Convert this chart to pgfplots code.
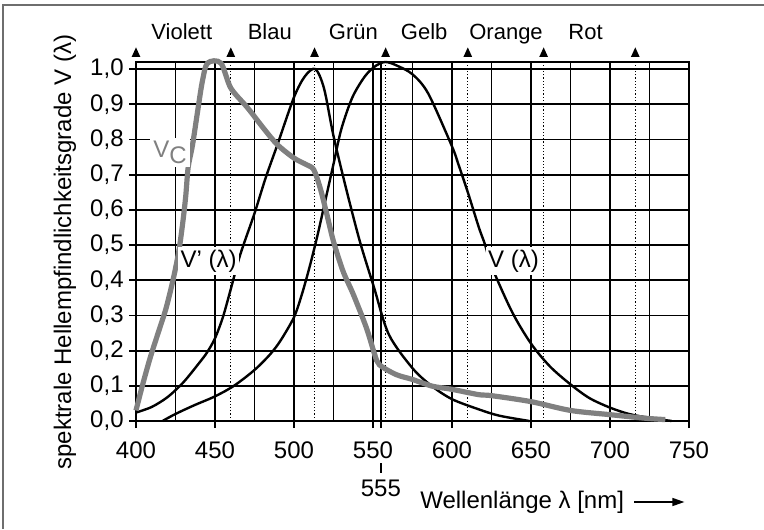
\documentclass[border=0pt]{standalone}
\usepackage{fontspec}
\setmainfont{Liberation Sans}
\usepackage{pgfplots}
\pgfplotsset{compat=1.18}
\usetikzlibrary{arrows.meta}
\definecolor{vcgray}{RGB}{128,128,128}
\definecolor{framegray}{RGB}{110,110,110}

\begin{document}
\begin{tikzpicture}[font=\fontsize{12}{14}\selectfont]
\begin{axis}[
  at={(0,0)}, anchor=south west,
  scale only axis, width=276.5pt, height=179.5pt,
  xmin=400, xmax=750, ymin=0, ymax=1.02,
  xtick={400,450,...,750},
  minor xtick={425,475,...,725},
  ytick={0,0.1,0.2,0.3,0.4,0.5,0.6,0.7,0.8,0.9,1.0},
  xtick pos=left, ytick pos=left,
  tick align=outside,
  major tick length=3.5pt, minor tick length=0pt,
  grid=both,
  major grid style={black, line width=0.9pt},
  minor grid style={black, line width=0.9pt},
  axis line style={black, line width=0.9pt},
  tick style={black, line width=0.9pt},
  /pgf/number format/assume math mode=true,
  xticklabel style={yshift=-3.5pt},
  yticklabel style={inner sep=2.5pt, /pgf/number format/.cd, use comma, fixed, fixed zerofill, precision=1},
  scaled y ticks=false,
  clip=false,
]
% colour boundaries
\pgfplotsinvokeforeach{460,513,558,610,658,716}{
  \draw[black, densely dotted, line width=0.6pt] (axis cs:#1,0) -- (axis cs:#1,1.02);
}
\draw[black, line width=0.9pt] (axis cs:555,0) -- (axis cs:555,1.02);
\pgfplotsinvokeforeach{400,460,513,558,610,658,716}{
  \coordinate (t#1) at (axis cs:#1,1.02);
}
\coordinate (c555) at (axis cs:555,0);
\coordinate (yl) at (axis cs:400,0.48);
\coordinate (xl) at (axis cs:579.7,0);

% V' (lambda), Nachtsehen
\addplot[black, line width=1.2pt, smooth] coordinates {
  (400,0.024) (410,0.04) (420,0.068) (430,0.11) (440,0.165) (445,0.195)
  (450,0.235) (455,0.295) (460,0.375) (466,0.473) (475,0.59) (482,0.69)
  (489.5,0.785) (500,0.92) (507,0.98) (513.5,1.0) (519,0.945) (525,0.81)
  (533,0.66) (541.7,0.51) (550.6,0.38) (560,0.246) (575,0.15) (587,0.10)
  (600,0.062) (617,0.033) (630,0.015) (649,0.0)
};
% V (lambda), Tagsehen
\addplot[black, line width=1.2pt, smooth] coordinates {
  (416.8,0.0) (425,0.02) (437,0.045) (450,0.07) (462,0.1) (475,0.145)
  (485,0.19) (491.7,0.23) (500,0.295) (505,0.36) (510,0.44) (515,0.53)
  (520,0.63) (525,0.73) (530,0.83) (537,0.92) (545,0.98) (552,1.01)
  (558,1.02) (565,1.01) (575,0.985) (585,0.93) (600,0.78) (604,0.73)
  (610,0.65) (617,0.55) (621,0.50) (625,0.44) (638,0.31) (650,0.22)
  (662,0.155) (675,0.104) (687,0.065) (700,0.038) (712,0.02) (725,0.009)
  (739,0.0)
};
% V_C
\addplot[vcgray, line width=2.6pt, smooth] coordinates {
  (400,0.03) (404,0.10) (409,0.18) (414,0.25) (419,0.32) (423.4,0.40)
  (427,0.48) (429.5,0.56) (431.5,0.64) (433,0.72) (435.8,0.785) (439,0.88)
  (442,0.965) (445.3,1.017) (453.7,1.017) (460,0.946) (470.6,0.89)
  (481,0.83) (489.5,0.785) (500,0.747) (508,0.728) (512.5,0.714)
  (516.7,0.66) (520.8,0.587) (525,0.51) (531,0.426) (537.5,0.36)
  (545.8,0.265) (551,0.19) (554,0.16) (564.6,0.132) (575,0.118)
  (587.5,0.099) (600,0.09) (616.7,0.075) (625,0.072) (650,0.055)
  (675,0.03) (700,0.018) (722,0.008) (735,0.004)
};

% curve labels
\node[fill=white, inner sep=1.5pt, text=vcgray] at (axis cs:421.5,0.764)
  {V\raisebox{-0.5ex}{C}};
\node[fill=white, inner sep=1.2pt] at (axis cs:445.9,0.4545) {V' (λ)};
\node[fill=white, inner sep=1.2pt] at (axis cs:638.9,0.4545) {V (λ)};

% colour names
\begin{scope}[font=\fontsize{11}{13}\selectfont, every node/.append style={anchor=base}]
\node at (axis cs:429,1.084) {Violett};
\node at (axis cs:484.7,1.084) {Blau};
\node at (axis cs:537.6,1.084) {Grün};
\node at (axis cs:582.4,1.084) {Gelb};
\node at (axis cs:634.2,1.084) {Orange};
\node at (axis cs:684.5,1.084) {Rot};
\end{scope}
\end{axis}

% markers above the boundaries
\foreach \b in {400,460,513,558,610,658,716}{
  \fill[black] (t\b) ++(-2.2pt,2.5pt) -- ++(4.4pt,0) -- ++(-2.2pt,4.8pt) -- cycle;
}
% 555 nm mark
\draw[black, line width=0.9pt] (c555) -- ++(0,-3.5pt);
\draw[black, line width=0.9pt] (c555) ++(0,-21pt) -- ++(0,-5pt);
\node at ([yshift=-33.5pt]c555) {555};

% axis titles
\node[rotate=90] at ([xshift=-35.5pt]yl) {spektrale Hellempfindlichkeitsgrade V (λ)};
\node[anchor=west, inner sep=0pt] (xlab) at ([yshift=-40.5pt]xl) {Wellenlänge λ [nm]};
\draw[-{Triangle[length=6pt,width=4pt]}, line width=0.7pt] (xlab.east) ++(5pt,0) -- ++(25pt,0);

\draw[framegray, line width=0.6pt] (-66.5pt,-54pt) -- (-66.5pt,208pt) -- (314pt,208pt);
\pgfresetboundingbox
\path[use as bounding box] (-68pt,-54pt) rectangle (314pt,210.5pt);
\end{tikzpicture}
\end{document}
